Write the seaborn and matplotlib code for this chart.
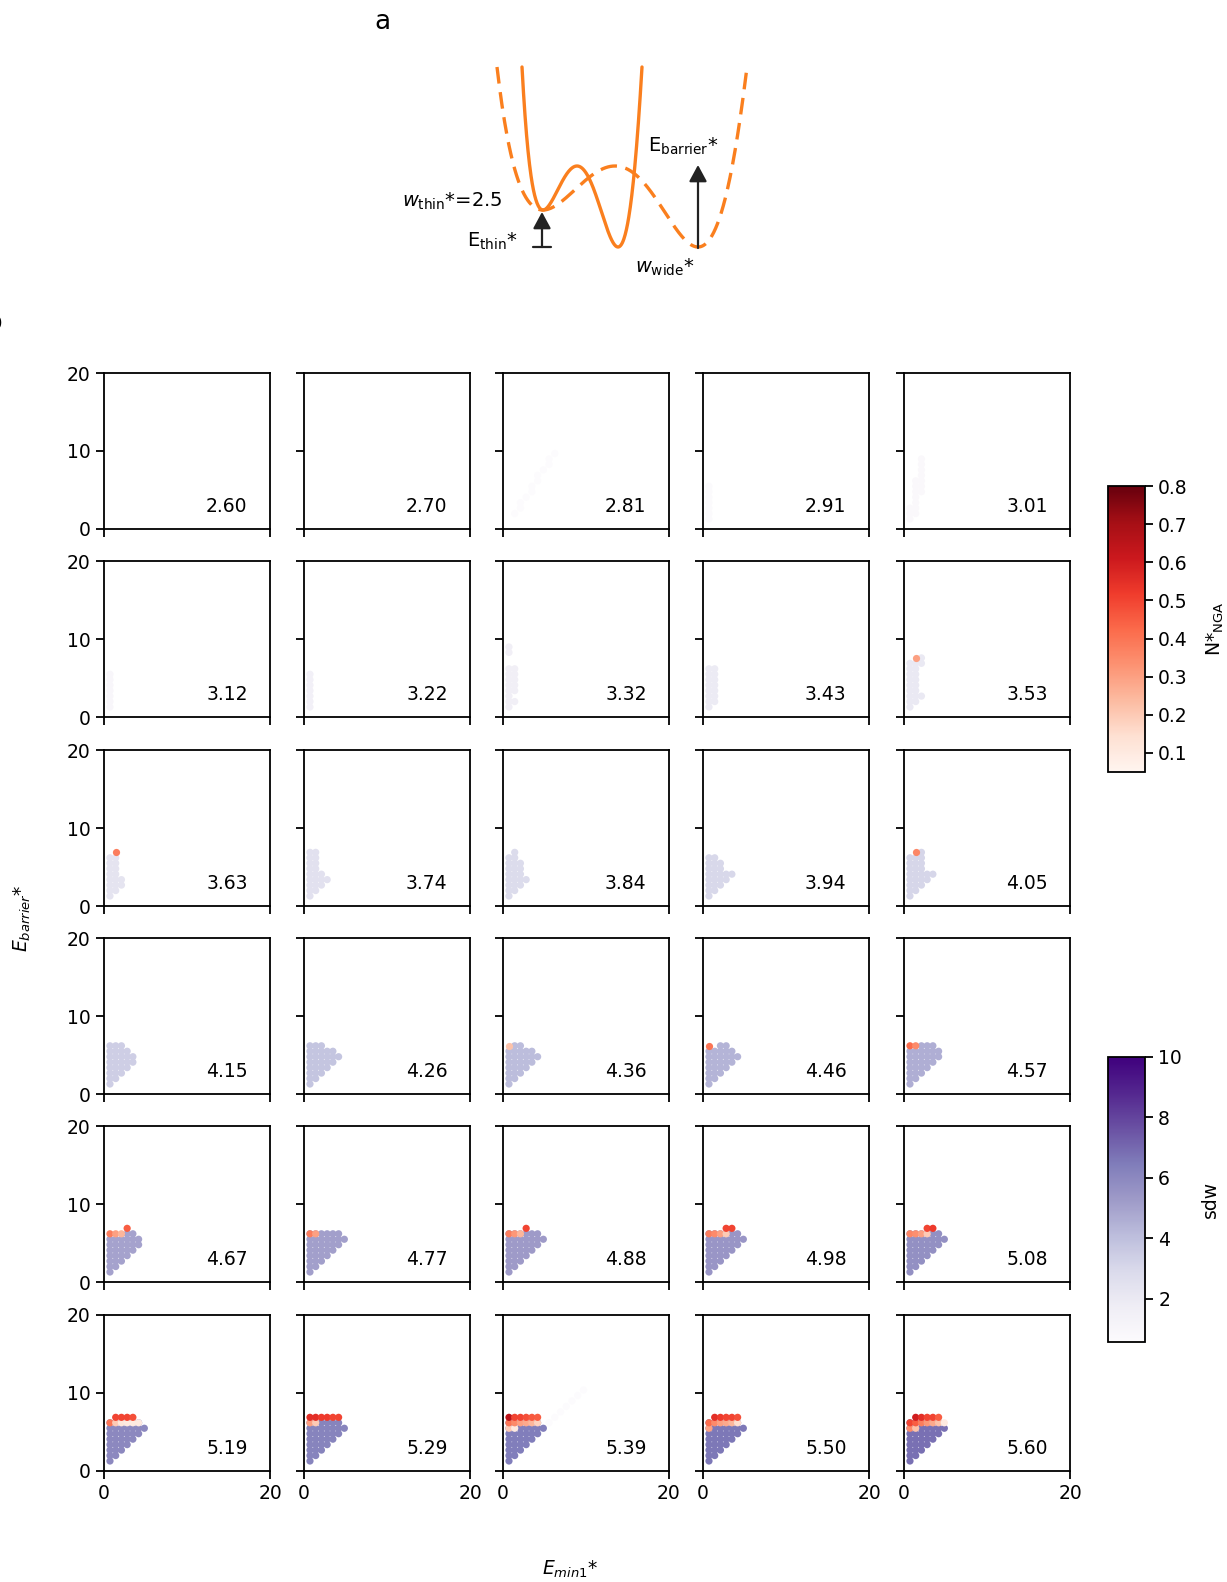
import numpy as np
import pandas as pd
import matplotlib
matplotlib.use("Agg")
import matplotlib.pyplot as plt
from matplotlib.colors import Normalize
from matplotlib.cm import ScalarMappable
import seaborn as sns

sns.set_style("ticks")
plt.rcParams['font.family'] = ['DejaVu Sans']
plt.rcParams['mathtext.fontset'] = 'dejavusans'
for key in ['text.color', 'axes.labelcolor', 'xtick.color', 'ytick.color', 'axes.edgecolor']:
    plt.rcParams[key] = 'black'

# scan grid (E_min1*, E_barrier*)
e_min1_grid = [0.72, 1.41, 2.10, 2.79, 3.48, 4.17, 4.86, 5.55, 6.24, 6.93, 7.62, 8.31, 9.00, 9.69]
e_barrier_grid = [1.28, 1.98, 2.68, 3.38, 4.08, 4.78, 5.48, 6.18, 6.88, 7.58, 8.28, 8.98, 9.68, 10.38]

# one panel per w_wide*
w_wide = [2.60, 2.70, 2.81, 2.91, 3.01,
          3.12, 3.22, 3.32, 3.43, 3.53,
          3.63, 3.74, 3.84, 3.94, 4.05,
          4.15, 4.26, 4.36, 4.46, 4.57,
          4.67, 4.77, 4.88, 4.98, 5.08,
          5.19, 5.29, 5.39, 5.50, 5.60]

# sdw level of the purple points in each panel
sdw_level = [0.6, 0.6, 0.6, 0.7, 0.8,
             1.0, 1.5, 1.6, 1.9, 2.0,
             2.3, 2.5, 2.8, 3.0, 3.1,
             3.4, 3.8, 4.1, 4.4, 4.6,
             5.0, 5.1, 5.3, 5.5, 5.7,
             6.0, 6.2, 6.4, 6.6, 6.8]

# purple points: (column, first row, last row) on the scan grid
full_tri = [(0, 0, 7), (1, 1, 7), (2, 2, 7), (3, 3, 7), (4, 4, 7), (5, 5, 7), (6, 6, 6)]
purple_cols = [
    [],
    [],
    [(1, 1, 1), (2, 2, 3), (3, 4, 4), (4, 5, 6), (5, 7, 8), (6, 9, 9), (7, 10, 11), (8, 12, 12)],
    [(0, 0, 6)],
    [(0, 0, 2), (1, 1, 7), (2, 5, 11)],
    [(0, 0, 6)],
    [(0, 0, 6)],
    [(0, 0, 7), (1, 1, 1), (1, 3, 7), (0, 10, 11)],
    [(0, 0, 7), (1, 1, 7)],
    [(0, 0, 8), (1, 1, 8), (2, 2, 2), (2, 8, 9)],
    [(0, 0, 7), (1, 1, 7), (2, 2, 3)],
    [(0, 0, 8), (1, 1, 8), (2, 2, 4), (3, 3, 3)],
    [(0, 0, 7), (1, 1, 8), (2, 2, 6), (3, 3, 3)],
    [(0, 0, 7), (1, 1, 7), (2, 2, 6), (3, 3, 4), (4, 4, 4)],
    [(0, 0, 7), (1, 1, 7), (2, 2, 8), (3, 3, 4), (4, 4, 4)],
    [(0, 0, 7), (1, 1, 7), (2, 2, 7), (3, 3, 6), (4, 4, 5)],
    [(0, 0, 7), (1, 1, 7), (2, 2, 7), (3, 3, 6), (4, 4, 6), (5, 5, 5)],
    [(0, 0, 6), (1, 1, 7), (2, 2, 7), (3, 3, 6), (4, 4, 6), (5, 5, 5)],
    [(0, 0, 6), (1, 1, 6), (2, 2, 7), (3, 3, 7), (4, 4, 6), (5, 5, 5)],
    [(0, 0, 6), (1, 1, 6), (2, 2, 7), (3, 3, 7), (4, 4, 7), (5, 5, 6)],
    [(0, 0, 6), (1, 1, 6), (2, 2, 6), (3, 3, 7), (4, 4, 7), (5, 5, 6)],
    full_tri, full_tri, full_tri, full_tri,
    full_tri, full_tri, full_tri, full_tri, full_tri,
]

# faint streak of almost-zero sdw points in the 5.39 panel: (column, row)
streak_539 = [(7, 7), (8, 8), (9, 9), (10, 10), (11, 11), (12, 12), (13, 13)]
streak_sdw = 0.6

# red points: (column, row, N*_NGA)
red_pts = [
    [], [], [], [], [],
    [], [], [], [], [(1, 9, 0.30)],
    [(1, 8, 0.38)], [], [], [], [(1, 8, 0.36)],
    [], [], [(0, 7, 0.22)], [(0, 7, 0.40)], [(0, 7, 0.42), (1, 7, 0.35)],
    [(0, 7, 0.38), (1, 7, 0.30), (2, 7, 0.25), (3, 8, 0.45)],
    [(0, 7, 0.38), (1, 7, 0.30)],
    [(0, 7, 0.38), (1, 7, 0.32), (2, 7, 0.25), (3, 8, 0.50)],
    [(0, 7, 0.38), (1, 7, 0.35), (2, 7, 0.30), (3, 7, 0.20), (3, 8, 0.50), (4, 8, 0.50)],
    [(0, 7, 0.36), (1, 7, 0.34), (2, 7, 0.30), (3, 7, 0.20), (3, 8, 0.50), (4, 8, 0.52)],
    [(0, 7, 0.40), (1, 7, 0.20), (2, 7, 0.12), (3, 7, 0.10), (4, 7, 0.10), (5, 7, 0.10),
     (1, 8, 0.50), (2, 8, 0.50), (3, 8, 0.50), (4, 8, 0.48)],
    [(0, 7, 0.30), (1, 7, 0.20), (0, 8, 0.55), (1, 8, 0.55), (2, 8, 0.52), (3, 8, 0.52),
     (4, 8, 0.50), (5, 8, 0.50)],
    [(0, 6, 0.20), (1, 6, 0.10),
     (0, 7, 0.40), (1, 7, 0.35), (2, 7, 0.30), (3, 7, 0.28), (4, 7, 0.25), (5, 7, 0.18),
     (0, 8, 0.65), (1, 8, 0.50), (2, 8, 0.50), (3, 8, 0.48), (4, 8, 0.46), (5, 8, 0.45)],
    [(0, 6, 0.30), (0, 7, 0.42), (1, 7, 0.35), (2, 7, 0.30), (3, 7, 0.28), (4, 7, 0.25), (5, 7, 0.15),
     (1, 8, 0.55), (2, 8, 0.52), (3, 8, 0.50), (4, 8, 0.50), (5, 8, 0.48)],
    [(0, 6, 0.35), (1, 6, 0.22),
     (0, 7, 0.50), (1, 7, 0.45), (2, 7, 0.38), (3, 7, 0.32), (4, 7, 0.28), (5, 7, 0.22), (6, 7, 0.10),
     (1, 8, 0.60), (2, 8, 0.55), (3, 8, 0.50), (4, 8, 0.50), (5, 8, 0.45)],
]

# schematic potentials (inset coordinates): turning points of both curves
dashed_x = [497, 543, 615, 698, 747]
solid_x = [522, 543, 577, 618, 642]
curve_y = [67, 210, 166, 247, 67]

sdw_norm = Normalize(0.56, 10)
nga_norm = Normalize(0.05, 0.8)

rows = []
for k, cols in enumerate(purple_cols):
    for c, r0, r1 in cols:
        for r in range(r0, r1 + 1):
            rows.append({'panel': k, 'x': e_min1_grid[c], 'y': e_barrier_grid[r], 'sdw': sdw_level[k]})
for c, r in streak_539:
    rows.append({'panel': w_wide.index(5.39), 'x': e_min1_grid[c], 'y': e_barrier_grid[r], 'sdw': streak_sdw})
sdw_df = pd.DataFrame(rows)

rows = []
for k, pts in enumerate(red_pts):
    for c, r, n in pts:
        rows.append({'panel': k, 'x': e_min1_grid[c], 'y': e_barrier_grid[r], 'nga': n})
nga_df = pd.DataFrame(rows)

W, H = 1227, 1582
fig = plt.figure(figsize=(W / 100, H / 100), dpi=100)


def px_axes(left, top, w, h):
    return fig.add_axes([left / W, 1 - (top + h) / H, w / W, h / H])


def well_curve(xs, ys):
    # smooth double well through the turning points, flat at the extrema
    x0, sc = xs[1], xs[3] - xs[1]
    t = (np.array(xs) - x0) / sc
    A, b = [], []
    for ti, yi in zip(t, ys):
        A.append([ti ** p for p in range(8)])
        b.append(yi)
    for ti in t[1:4]:
        A.append([p * ti ** (p - 1) if p else 0.0 for p in range(8)])
        b.append(0.0)
    coef = np.linalg.solve(np.array(A), np.array(b))
    tt = np.linspace(t[0], t[-1], 400)
    return x0 + tt * sc, np.polyval(coef[::-1], tt)


# ---- panel a: schematic
orange = '#fa7f1e'
ins = px_axes(470, 50, 300, 250)
ins.set_xlim(470, 770)
ins.set_ylim(300, 50)
ins.axis('off')
xd, yd = well_curve(dashed_x, curve_y)
xs_, ys_ = well_curve(solid_x, curve_y)
ins.plot(xd, yd, color=orange, lw=2.4, ls=(0, (5, 2.6)))
ins.plot(xs_, ys_, color=orange, lw=2.4)
ink = '#222222'
ins.plot([533, 551], [247, 247], color=ink, lw=1.6)
ins.annotate('', xy=(542, 212), xytext=(542, 247),
             arrowprops=dict(arrowstyle='-|>,head_length=0.5,head_width=0.27', mutation_scale=20,
                             color=ink, lw=1.6, shrinkA=0, shrinkB=0))
ins.annotate('', xy=(698, 165), xytext=(698, 248),
             arrowprops=dict(arrowstyle='-|>,head_length=0.5,head_width=0.27', mutation_scale=20,
                             color=ink, lw=1.6, shrinkA=0, shrinkB=0))
ins.text(502, 201, r'$w_{\mathrm{thin}}$*=2.5', fontsize=14, ha='right', va='center')
ins.text(518, 241, r'E$_{\mathrm{thin}}$*', fontsize=14, ha='right', va='center')
ins.text(683, 146, r'E$_{\mathrm{barrier}}$*', fontsize=14, ha='center', va='center')
ins.text(665, 267, r'$w_{\mathrm{wide}}$*', fontsize=14, ha='center', va='center')
fig.text(382 / W, 1 - 22 / H, 'a', fontsize=19, ha='center', va='center')
fig.text(-14 / W, 1 - 323 / H, 'b', fontsize=19, ha='left', va='center')

# ---- panel b: grid of scans
lefts = [104, 304, 503, 703, 904]
tops = [373, 561, 750, 938, 1126, 1315]
for k, w in enumerate(w_wide):
    i, j = divmod(k, 5)
    ax = px_axes(lefts[j], tops[i], 166, 156)
    sub = sdw_df[sdw_df['panel'] == k]
    if len(sub):
        sns.scatterplot(data=sub, x='x', y='y', hue='sdw', palette='Purples', hue_norm=sdw_norm,
                        s=27, linewidth=0, legend=False, ax=ax)
    sub = nga_df[nga_df['panel'] == k]
    if len(sub):
        sns.scatterplot(data=sub, x='x', y='y', hue='nga', palette='Reds', hue_norm=nga_norm,
                        s=27, linewidth=0, legend=False, ax=ax)
    ax.set_xlim(0, 20)
    ax.set_ylim(0, 20)
    ax.set_xticks([0, 20])
    ax.set_yticks([0, 10, 20])
    ax.set_xlabel('')
    ax.set_ylabel('')
    ax.tick_params(length=6, width=1.3, labelsize=13.5, color='black', labelcolor='black')
    for sp in ax.spines.values():
        sp.set_linewidth(1.3)
        sp.set_color('black')
    if j != 0:
        ax.set_yticklabels([])
    if i != 5:
        ax.set_xticklabels([])
    ax.text(0.865, 0.143, f'{w:.2f}', transform=ax.transAxes, fontsize=13.5, ha='right', va='center')

fig.text(22 / W, 1 - 918 / H, r'$E_{barrier}$*', fontsize=13.5, rotation=90, ha='center', va='center')
fig.text(570 / W, 1 - 1569 / H, r'$E_{min1}$*', fontsize=13.5, ha='center', va='center')

# ---- colorbars
cax1 = px_axes(1108, 486, 37, 286)
cb1 = fig.colorbar(ScalarMappable(norm=nga_norm, cmap='Reds'), cax=cax1)
cb1.set_ticks([0.1, 0.2, 0.3, 0.4, 0.5, 0.6, 0.7, 0.8])
cb1.set_label('N*$_{\\mathrm{NGA}}$', fontsize=13.5, labelpad=12)
cax2 = px_axes(1108, 1057, 37, 285)
cb2 = fig.colorbar(ScalarMappable(norm=sdw_norm, cmap='Purples'), cax=cax2)
cb2.set_ticks([2, 4, 6, 8, 10])
cb2.set_label('sdw', fontsize=13.5, labelpad=14)
for cb in (cb1, cb2):
    cb.ax.tick_params(labelsize=13.5, length=6, width=1.3, color='black', labelcolor='black')
    cb.outline.set_linewidth(1.3)
    cb.outline.set_edgecolor('black')

fig.savefig('out.png', dpi=100)
